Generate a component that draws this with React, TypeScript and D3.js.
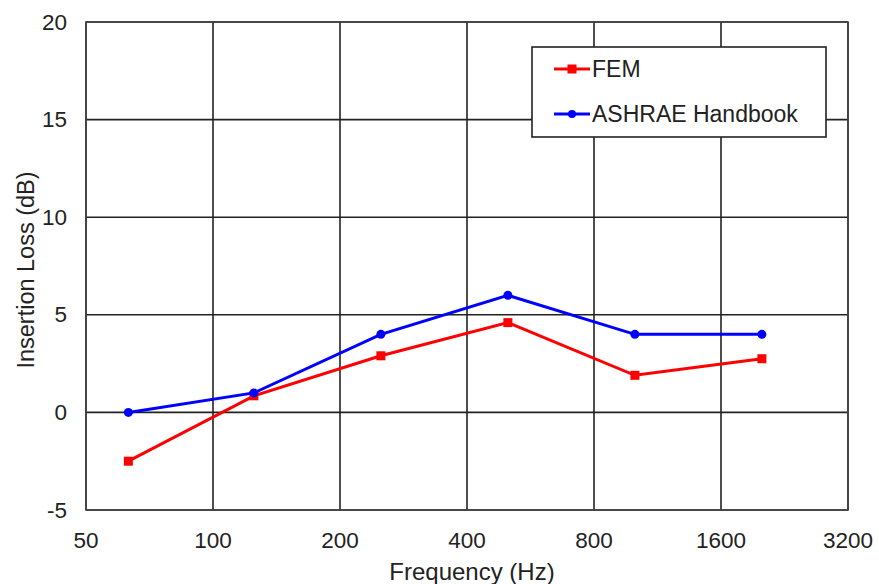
import React from "react";
import * as d3 from "d3";

const freqs = [63, 125, 250, 500, 1000, 2000];
const femValues = [-2.5, 0.85, 2.9, 4.6, 1.9, 2.75];
const ashraeValues = [0.0, 1.0, 4.0, 6.0, 4.0, 4.0];
const xTicks = [50, 100, 200, 400, 800, 1600, 3200];
const yTicks = [-5, 0, 5, 10, 15, 20];

const W = 879, H = 584;
const L = 86, R = 848, T = 22, B = 510;

export default function App() {
  const x = d3.scaleLog().base(2).domain([50, 3200]).range([L, R]);
  const y = d3.scaleLinear().domain([-5, 20]).range([B, T]);
  const line = d3.line<number>().x((_, i) => x(freqs[i])).y((v) => y(v));
  const font = "'Liberation Sans', Arial, sans-serif";
  return (
    <svg width={W} height={H} style={{ position: "absolute", left: 0, top: 0, background: "#fff" }} fontFamily={font}>
      <rect x={0} y={0} width={W} height={H} fill="#fff" />
      {yTicks.map((t) => (
        <g key={"y" + t}>
          <line x1={L} x2={R} y1={y(t)} y2={y(t)} stroke="#222" strokeWidth={1.6} />
          <text x={67} y={y(t) + 7.5} textAnchor="end" fontSize={22.5} fill="#222">{t}</text>
        </g>
      ))}
      {xTicks.map((t) => (
        <g key={"x" + t}>
          <line x1={x(t)} x2={x(t)} y1={T} y2={B} stroke="#222" strokeWidth={1.6} />
          <text x={x(t)} y={548} textAnchor="middle" fontSize={22.5} fill="#222">{t}</text>
        </g>
      ))}
      <rect x={L} y={T} width={R - L} height={B - T} fill="none" stroke="#444" strokeWidth={1.6} />
      <text x={472} y={580} textAnchor="middle" fontSize={24} fill="#222">Frequency (Hz)</text>
      <text transform={`translate(34,270) rotate(-90)`} textAnchor="middle" fontSize={23.5} fill="#222">Insertion Loss (dB)</text>

      <path d={line(femValues) || ""} fill="none" stroke="#ff0000" strokeWidth={3} />
      {femValues.map((v, i) => (
        <rect key={"f" + i} x={x(freqs[i]) - 4.5} y={y(v) - 4.5} width={9} height={9} fill="#ff0000" />
      ))}
      <path d={line(ashraeValues) || ""} fill="none" stroke="#0000ff" strokeWidth={3} />
      {ashraeValues.map((v, i) => (
        <circle key={"a" + i} cx={x(freqs[i])} cy={y(v)} r={4.5} fill="#0000ff" />
      ))}

      <rect x={532} y={47} width={294} height={90} fill="#fff" stroke="#222" strokeWidth={1.6} />
      <line x1={554} x2={590} y1={69} y2={69} stroke="#ff0000" strokeWidth={3} />
      <rect x={567.5} y={64.5} width={9} height={9} fill="#ff0000" />
      <text x={592} y={77} fontSize={23} fill="#222">FEM</text>
      <line x1={554} x2={590} y1={114} y2={114} stroke="#0000ff" strokeWidth={3} />
      <circle cx={572} cy={114} r={4} fill="#0000ff" />
      <text x={592} y={122} fontSize={23} fill="#222">ASHRAE Handbook</text>
    </svg>
  );
}
